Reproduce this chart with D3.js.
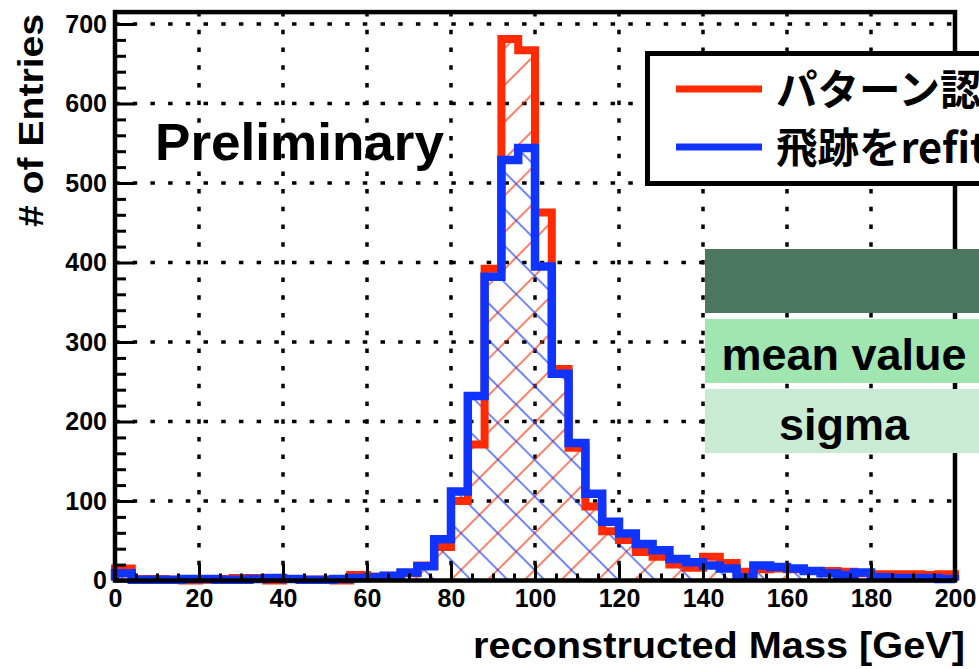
<!DOCTYPE html>
<html>
<head>
<meta charset="utf-8">
<script src="https://cdn.jsdelivr.net/npm/d3@7"></script>
<style>
  html, body { margin: 0; padding: 0; background: #fff; overflow: hidden; }
  svg { display: block; }
  text { font-family: "Liberation Sans", Arial, Helvetica, sans-serif; font-weight: bold; }
</style>
</head>
<body>
<svg id="chart" width="979" height="669"></svg>
<script>
// ---------- data ----------
const binWidth = 4;                       // GeV per bin, 0..200
const redCounts = [15, 2, 2, 1, 0, 1, 2, 3, 3, 0,
                   2, 1, 1, 0, 7, 5, 6, 9, 19, 42,
                   100, 171, 392, 681, 667, 463, 266, 167, 93, 62,
                   51, 36, 30, 20, 16, 30, 22, 11, 14, 15,
                   14, 12, 12, 11, 9, 8, 8, 8, 7, 8];
const blueCounts = [9, 1, 1, 1, 2, 2, 1, 1, 2, 3,
                    2, 1, 1, 2, 3, 4, 6, 10, 18, 52,
                    112, 232, 382, 529, 544, 395, 260, 173, 109, 74,
                    59, 46, 38, 27, 23, 19, 15, 4, 19, 17,
                    15, 12, 9, 7, 10, 4, 3, 3, 3, 2];
const xTickValues = [0, 20, 40, 60, 80, 100, 120, 140, 160, 180, 200];
const yTickValues = [0, 100, 200, 300, 400, 500, 600, 700];
const legendLabels = ["パターン認識", "飛跡をrefit"];
const tableLabels = ["", "mean value", "sigma"];
const xTitle = "reconstructed Mass [GeV]";
const yTitle = "# of Entries";
const stampText = "Preliminary";

// ---------- layout ----------
const svg = d3.select("#chart");
const x = d3.scaleLinear().domain([0, 200]).range([115, 955]);
const y = d3.scaleLinear().domain([0, 700]).range([580.5, 24]);
const yTop = y(715);
const RED = "#ff2a00", BLUE = "#1034ff";

// hatch patterns
const defs = svg.append("defs");
function hatch(id, color, angle) {
  const p = defs.append("pattern").attr("id", id)
    .attr("patternUnits", "userSpaceOnUse")
    .attr("width", 26).attr("height", 26)
    .attr("patternTransform", `rotate(${angle})`);
  p.append("line").attr("x1", 1).attr("x2", 1).attr("y1", 0).attr("y2", 26)
    .attr("stroke", color).attr("stroke-width", 1.2);
}
hatch("hRed", RED, 45);
hatch("hBlue", BLUE, -45);

// grid
const grid = svg.append("g");
xTickValues.filter(d => d > 0 && d < 200).forEach(d => {
  grid.append("line").attr("x1", x(d)).attr("x2", x(d)).attr("y1", yTop).attr("y2", y(0))
    .attr("stroke", "#000").attr("stroke-width", 3.5).attr("stroke-dasharray", "4.5,13.2");
});
yTickValues.filter(d => d > 0).forEach(d => {
  grid.append("line").attr("x1", x(0)).attr("x2", x(200)).attr("y1", y(d)).attr("y2", y(d))
    .attr("stroke", "#000").attr("stroke-width", 3.5).attr("stroke-dasharray", "4.5,13.2");
});

// histogram helpers
function histPoints(counts) {
  const pts = [[x(0), y(0)]];
  counts.forEach((v, i) => {
    pts.push([x(i * binWidth), y(v)]);
    pts.push([x((i + 1) * binWidth), y(v)]);
  });
  pts.push([x(counts.length * binWidth), y(0)]);
  return pts;
}
const line = d3.line();

svg.append("path").attr("d", line(histPoints(redCounts)) + "Z").attr("fill", "url(#hRed)");
svg.append("path").attr("d", line(histPoints(blueCounts)) + "Z").attr("fill", "url(#hBlue)");
svg.append("path").attr("d", line(histPoints(redCounts))).attr("fill", "none")
  .attr("stroke", RED).attr("stroke-width", 8).attr("stroke-linejoin", "miter");
svg.append("path").attr("d", line(histPoints(blueCounts))).attr("fill", "none")
  .attr("stroke", BLUE).attr("stroke-width", 8.5).attr("stroke-linejoin", "miter");

// axes (ticks inward)
function styleAxis(g) {
  g.select(".domain").remove();
  g.selectAll(".tick line").attr("stroke", "#000").attr("stroke-width", 3);
  g.selectAll("text").attr("fill", "#000").style("font-size", "25px")
    .style("font-family", "'Liberation Sans', Arial, sans-serif").style("font-weight", "bold");
}
const yMinor = d3.range(0, 716, 20).filter(d => d % 100 !== 0);
svg.append("g").attr("transform", `translate(${x(0)},0)`)
  .call(d3.axisLeft(y).tickValues(yMinor).tickSize(-11).tickFormat(""))
  .call(styleAxis);
svg.append("g").attr("transform", `translate(${x(0)},0)`)
  .call(d3.axisLeft(y).tickValues(yTickValues).tickSize(-20).tickPadding(8).tickFormat(d3.format("d")))
  .call(styleAxis);
const xMinor = d3.range(0, 201, 5).filter(d => d % 20 !== 0);
svg.append("g").attr("transform", `translate(0,${y(0)})`)
  .call(d3.axisBottom(x).tickValues(xMinor).tickSize(-7).tickFormat(""))
  .call(styleAxis);
svg.append("g").attr("transform", `translate(0,${y(0)})`)
  .call(d3.axisBottom(x).tickValues(xTickValues).tickSize(-17).tickPadding(9).tickFormat(d3.format("d")))
  .call(styleAxis);

// frame
svg.append("rect").attr("x", x(0)).attr("y", yTop).attr("width", x(200) - x(0)).attr("height", y(0) - yTop)
  .attr("fill", "none").attr("stroke", "#000").attr("stroke-width", 4.5);

// Preliminary
svg.append("text").attr("x", 155).attr("y", 160).style("font-size", "52px")
  .attr("textLength", 289).attr("lengthAdjust", "spacingAndGlyphs").text(stampText);

// legend
const lg = svg.append("g");
lg.append("rect").attr("x", 647.5).attr("y", 53.5).attr("width", 400).attr("height", 130)
  .attr("fill", "#fff").attr("stroke", "#000").attr("stroke-width", 5);
[RED, BLUE].forEach((c, i) => {
  const ly = 89 + i * 58;
  lg.append("line").attr("x1", 676).attr("x2", 762).attr("y1", ly).attr("y2", ly)
    .attr("stroke", c).attr("stroke-width", 7);
  lg.append("text").attr("x", 776).attr("y", ly + 16)
    .style("font-family", "'Noto Sans CJK JP', sans-serif").style("font-weight", "bold")
    .style("font-size", "41.5px").text(legendLabels[i]);
});

// table overlay
const tableColors = ["#4b7761", "#a1e5b0", "#c9ebd4"];
tableLabels.forEach((t, i) => {
  const ty = 249 + i * 70;
  svg.append("rect").attr("x", 705).attr("y", ty).attr("width", 300).attr("height", 64)
    .attr("fill", tableColors[i]);
  if (t) svg.append("text").attr("x", 844).attr("y", ty + 51).attr("text-anchor", "middle")
    .style("font-size", "45px").text(t);
});

// axis titles
svg.append("text").attr("x", 965).attr("y", 658).attr("text-anchor", "end")
  .style("font-size", "36px").attr("textLength", 492).attr("lengthAdjust", "spacingAndGlyphs")
  .text(xTitle);
svg.append("text").attr("transform", "translate(43,14) rotate(-90)").attr("text-anchor", "end")
  .style("font-size", "35px").attr("textLength", 213).attr("lengthAdjust", "spacingAndGlyphs")
  .text(yTitle);
</script>
</body>
</html>
